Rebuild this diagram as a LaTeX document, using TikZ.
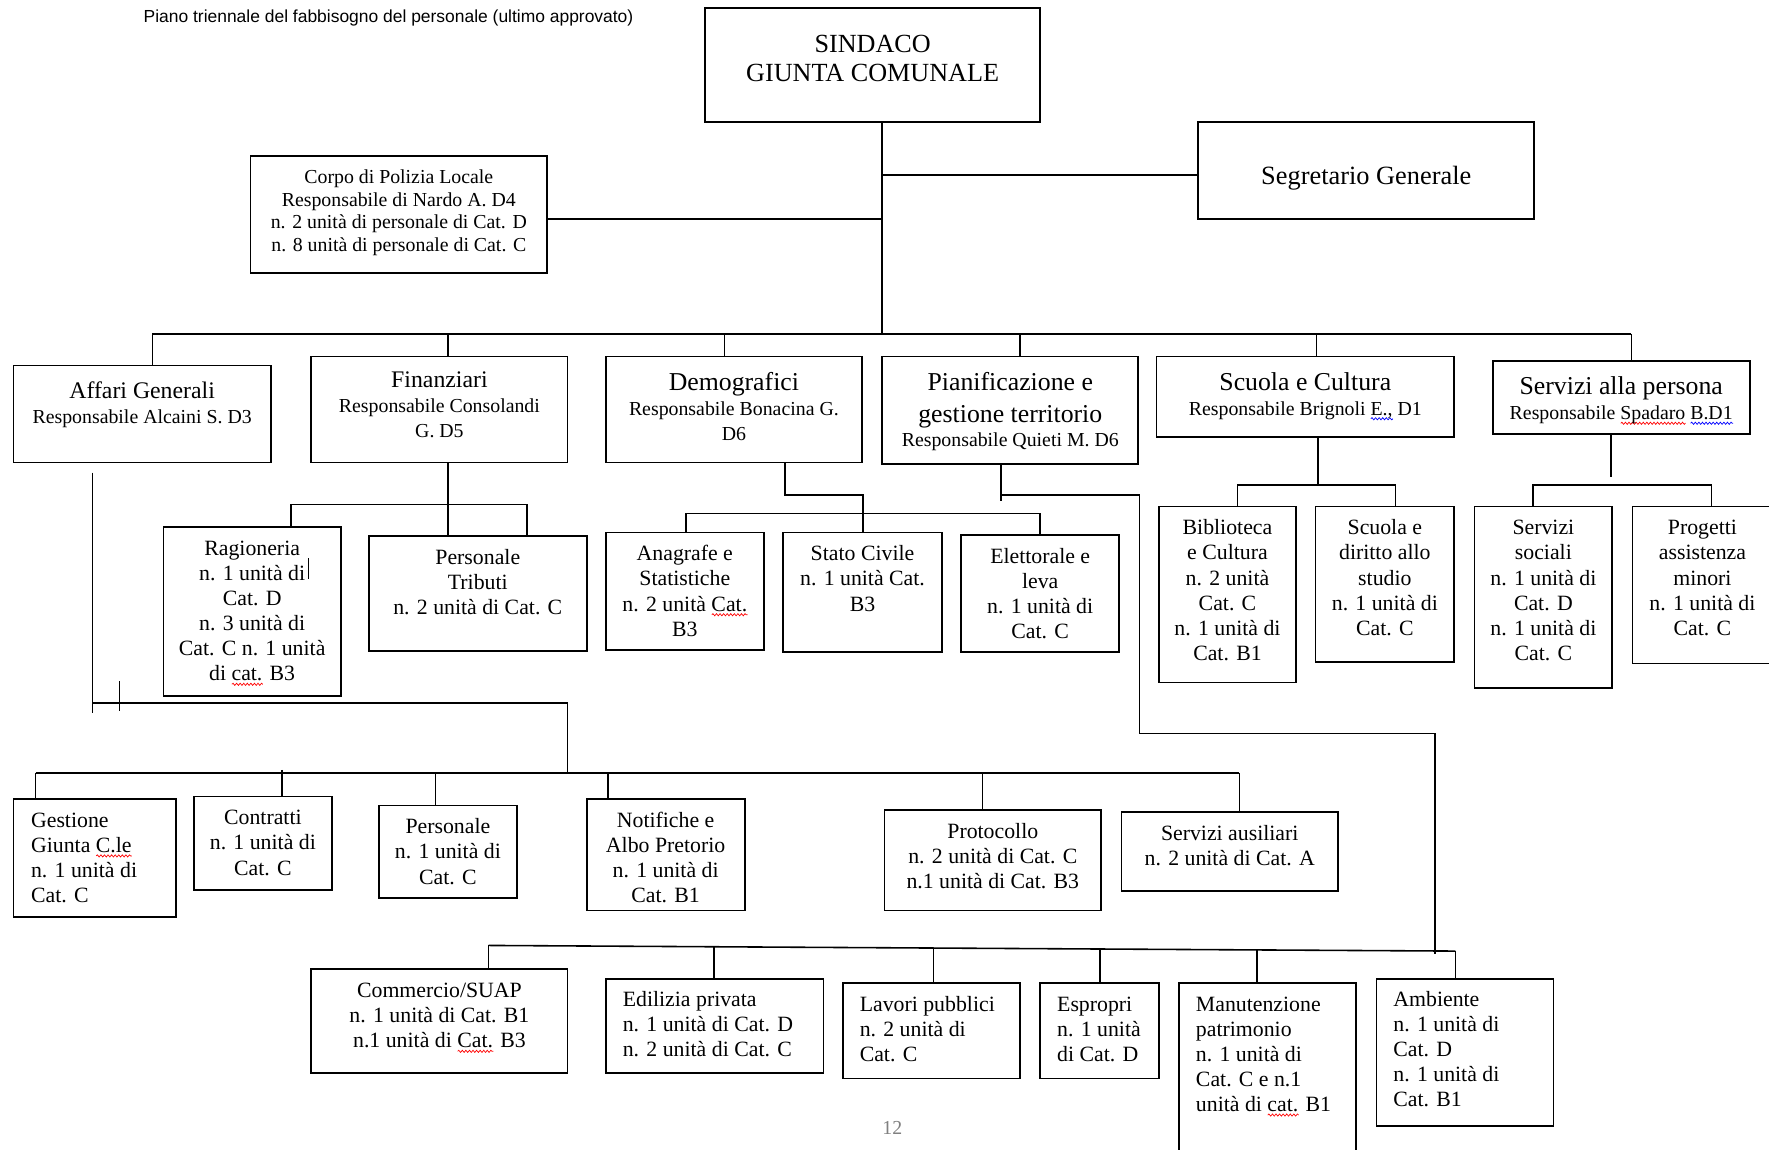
\documentclass[tikz,border=0pt]{standalone}
\usepackage{fontspec}
\setmainfont{Liberation Serif}
\newfontfamily\arialfont{Liberation Sans}
\usetikzlibrary{calc,fit,decorations.pathmorphing}

\newdimen\wavewd
\newcommand{\wavy}[2]{\setbox0\hbox{#2}\wavewd=\wd0\rlap{\raisebox{-2.6pt}{\tikz[x=1pt,y=1pt]\draw[#1, line width=0.35pt, decorate,
  decoration={snake, amplitude=0.55pt, segment length=1.8pt}] (0,0) -- (\wavewd,0);}}#2}
\newcommand{\rwave}[1]{\wavy{red}{#1}}
\newcommand{\bwave}[1]{\wavy{blue}{#1}}
\newcommand{\hda}{\fontsize{13}{15}\selectfont}
\newcommand{\hdb}{\fontsize{12}{14}\selectfont}

\begin{document}
\begin{tikzpicture}[x=0.02cm, y=-0.02cm,
    box/.style={draw, line width=0.9pt, inner sep=0pt},
    link/.style={line width=0.8pt},
    txt/.style={align=center, inner sep=0pt, anchor=north,
      font=\fontsize{11}{12.65}\selectfont},
    txtl/.style={txt, align=left, anchor=north west},
    head/.style={txt, font=\fontsize{10}{12.5}\selectfont}]

    \path[use as bounding box, fill=white] (0,0) rectangle (1568,1019);

    \node[font=\arialfont\fontsize{8.8}{10}\selectfont, anchor=west, inner sep=0pt]
      (titolo) at (127,16) {Piano triennale del fabbisogno del personale (ultimo approvato)};

    % vertice
    \node[box, fit={(625,7) (922,108)}] (sind) {};
    \node[txt, font=\fontsize{13.2}{14.8}\selectfont] (sind-t) at ($(sind.north)+(0,21.5)$)
      {\strut SINDACO\\ GIUNTA COMUNALE};
    \node[box, fit={(1062,108) (1360,194)}] (seg) {};
    \node[font=\fontsize{13.3}{15}\selectfont, inner sep=0pt, anchor=base] (seg-t)
      at ($(seg.center)+(0,12.7)$) {Segretario Generale};
    \node[box, fit={(222,138) (485,242)}] (pol) {};
    \node[txt, font=\fontsize{10}{11.5}\selectfont] (pol-t) at ($(pol.north)+(0,10.7)$)
      {\strut Corpo di Polizia Locale\\ Responsabile di Nardo A. D4\\
       n. 2 unità di personale di Cat. D\\ n. 8 unità di personale di Cat. C};

    % settori
    \node[box, fit={(12,324) (240,410)}] (aff) {};
    \node[head] (aff-t) at ($(aff.north)+(0,14.5)$)
      {\strut{\hdb Affari Generali}\\ Responsabile Alcaini S. D3};
    \node[box, fit={(276,316) (503,410)}] (fin) {};
    \node[head] (fin-t) at ($(fin.north)+(0,12.5)$)
      {\strut{\hdb Finanziari}\\ Responsabile Consolandi\\ G. D5};
    \node[box, fit={(537,316) (764,410)}] (dem) {};
    \node[head] (dem-t) at ($(dem.north)+(0,14.5)$)
      {\strut{\hda Demografici}\\ Responsabile Bonacina G.\\ D6};
    \node[box, fit={(782,316) (1009,411)}] (pia) {};
    \node[head] (pia-t) at ($(pia.north)+(0,14.5)$)
      {\strut{\hda Pianificazione e}\\[3.4pt] {\hda gestione territorio}\\ Responsabile Quieti M. D6};
    \node[box, fit={(1025,316) (1289,387)}] (scu) {};
    \node[head] (scu-t) at ($(scu.north)+(0,14.5)$)
      {\strut{\hda Scuola e Cultura}\\ Responsabile Brignoli \bwave{E.,} D1};
    \node[box, fit={(1323,320) (1551,385)}] (ser) {};
    \node[head] (ser-t) at ($(ser.north)+(0,14.5)$)
      {\strut{\hda Servizi alla persona}\\ Responsabile \rwave{Spadaro} \bwave{B.D1}};

    % uffici
    \node[box, fit={(145,467) (302,617)}] (rag) {};
    \node[txt] (rag-t) at ($(rag.north)+(0,10)$)
      {\strut Ragioneria\\ n. 1 unità di\\ Cat. D\\ n. 3 unità di\\ Cat. C n. 1 unità\\ di \rwave{cat.} B3};
    \node[box, fit={(327,475) (520,577)}] (ptr) {};
    \node[txt] (ptr-t) at ($(ptr.north)+(0,10)$)
      {\strut Personale\\ Tributi\\ n. 2 unità di Cat. C};
    \node[box, fit={(537,472) (677,576)}] (ana) {};
    \node[txt] (ana-t) at ($(ana.north)+(0,10)$)
      {\strut Anagrafe e\\ Statistiche\\ n. 2 unità \rwave{Cat.}\\ B3};
    \node[box, fit={(694,472) (835,578)}] (sta) {};
    \node[txt] (sta-t) at ($(sta.north)+(0,10)$)
      {\strut Stato Civile\\ n. 1 unità Cat.\\ B3};
    \node[box, fit={(852,474) (992,578)}] (ele) {};
    \node[txt] (ele-t) at ($(ele.north)+(0,10)$)
      {\strut Elettorale e\\ leva\\ n. 1 unità di\\ Cat. C};
    \node[box, fit={(1027,449) (1149,605)}] (bib) {};
    \node[txt] (bib-t) at ($(bib.north)+(0,10)$)
      {\strut Biblioteca\\ e Cultura\\ n. 2 unità\\ Cat. C\\ n. 1 unità di\\ Cat. B1};
    \node[box, fit={(1166,449) (1289,587)}] (sdi) {};
    \node[txt] (sdi-t) at ($(sdi.north)+(0,10)$)
      {\strut Scuola e\\ diritto allo\\ studio\\ n. 1 unità di\\ Cat. C};
    \node[box, fit={(1307,449) (1429,610)}] (sso) {};
    \node[txt] (sso-t) at ($(sso.north)+(0,10)$)
      {\strut Servizi\\ sociali\\ n. 1 unità di\\ Cat. D\\ n. 1 unità di\\ Cat. C};
    \node[box, fit={(1447,449) (1571,588)}] (pro) {};
    \node[txt] (pro-t) at ($(pro.north)+(0,10)$)
      {\strut Progetti\\ assistenza\\ minori\\ n. 1 unità di\\ Cat. C};

    \node[box, fit={(12,708) (156,813)}] (ges) {};
    \node[txtl] (ges-t) at ($(ges.north west)+(16,10)$)
      {\strut Gestione\\ Giunta \rwave{C.le}\\ n. 1 unità di\\ Cat. C};
    \node[box, fit={(172,706) (294,789)}] (ctr) {};
    \node[txt] (ctr-t) at ($(ctr.north)+(0,10)$)
      {\strut Contratti\\ n. 1 unità di\\ Cat. C};
    \node[box, fit={(336,714) (458,796)}] (per) {};
    \node[txt] (per-t) at ($(per.north)+(0,10)$)
      {\strut Personale\\ n. 1 unità di\\ Cat. C};
    \node[box, fit={(520,708) (660,807)}] (notif) {};
    \node[txt] (notif-t) at ($(notif.north)+(0,10)$)
      {\strut Notifiche e\\ Albo Pretorio\\ n. 1 unità di\\ Cat. B1};
    \node[box, fit={(784,718) (976,807)}] (prt) {};
    \node[txt] (prt-t) at ($(prt.north)+(0,10)$)
      {\strut Protocollo\\ n. 2 unità di Cat. C\\ n.1 unità di Cat. B3};
    \node[box, fit={(994,720) (1186,790)}] (aus) {};
    \node[txt] (aus-t) at ($(aus.north)+(0,10)$)
      {\strut Servizi ausiliari\\ n. 2 unità di Cat. A};

    \node[box, fit={(276,859) (503,951)}] (com) {};
    \node[txt] (com-t) at ($(com.north)+(0,10)$)
      {\strut Commercio/SUAP\\ n. 1 unità di Cat. B1\\ n.1 unità di \rwave{Cat.} B3};
    \node[box, fit={(537,868) (730,951)}] (edi) {};
    \node[txtl] (edi-t) at ($(edi.north west)+(15.5,9)$)
      {\strut Edilizia privata\\ n. 1 unità di Cat. D\\ n. 2 unità di Cat. C};
    \node[box, fit={(747,871) (904,956)}] (lav) {};
    \node[txtl] (lav-t) at ($(lav.north west)+(15.5,10)$)
      {\strut Lavori pubblici\\ n. 2 unità di\\ Cat. C};
    \node[box, fit={(922,871) (1027,956)}] (esp) {};
    \node[txtl] (esp-t) at ($(esp.north west)+(15.5,10)$)
      {\strut Espropri\\ n. 1 unità\\ di Cat. D};
    \node[box, fit={(1045,871) (1202,1040)}] (man) {};
    \node[txtl] (man-t) at ($(man.north west)+(15.5,10)$)
      {\strut Manutenzione\\ patrimonio\\ n. 1 unità di\\ Cat. C e n.1\\ unità di \rwave{cat.} B1};
    \node[box, fit={(1220,868) (1377,998)}] (amb) {};
    \node[txtl] (amb-t) at ($(amb.north west)+(15.5,9)$)
      {\strut Ambiente\\ n. 1 unità di\\ Cat. D\\ n. 1 unità di\\ Cat. B1};

    \node[font=\fontsize{10}{12}\selectfont, text=gray, inner sep=0pt] (pagina) at (791,1000) {12};

    % collegamenti vertice
    \coordinate (trunk) at (782,296);
    \coordinate (t-seg) at (782,155);
    \coordinate (t-pol) at (782,194);
    \draw[link] (sind.south -| trunk) -- (trunk);
    \draw[link] (t-seg) -- (t-seg -| seg.west);
    \draw[link] (t-pol) -- (t-pol -| pol.east);

    % barra settori
    \coordinate (b-aff) at (135,296);
    \coordinate (b-fin) at (397,296);
    \coordinate (b-dem) at (642,296);
    \coordinate (b-pia) at (904,296);
    \coordinate (b-scu) at (1167,296);
    \coordinate (b-ser) at (1446,296);
    \draw[link] (b-aff) -- (b-ser);
    \foreach \n in {aff,fin,dem,pia,scu,ser}
      \draw[link] (b-\n) -- (b-\n |- \n.north);

    % finanziari
    \coordinate (f-rag) at (258,447);
    \coordinate (f-ptr) at (467,447);
    \draw[link] (fin.south -| b-fin) -- (b-fin |- ptr.north);
    \draw[link] (f-rag |- rag.north) -- (f-rag) -- (f-ptr) -- (f-ptr |- ptr.north);
    \draw[line width=0.5pt] (273,495) -- (273,513);

    % demografici
    \coordinate (d-a) at (696,439);
    \coordinate (d-b) at (765,439);
    \coordinate (d-ana) at (608,455);
    \coordinate (d-ele) at (922,455);
    \draw[link] (dem.south -| d-a) -- (d-a) -- (d-b) -- (d-b |- sta.north);
    \draw[link] (d-ana |- ana.north) -- (d-ana) -- (d-ele) -- (d-ele |- ele.north);

    % scuola e servizi
    \coordinate (s-a) at (1168,430);
    \coordinate (s-bib) at (1097,430);
    \coordinate (s-sdi) at (1237,430);
    \draw[link] (scu.south -| s-a) -- (s-a);
    \draw[link] (s-bib |- bib.north) -- (s-bib) -- (s-sdi) -- (s-sdi |- sdi.north);
    \coordinate (v-a) at (1428,423);
    \coordinate (v-sso) at (1359,430);
    \coordinate (v-pro) at (1517,430);
    \draw[link] (ser.south -| v-a) -- (v-a);
    \draw[link] (v-sso |- sso.north) -- (v-sso) -- (v-pro) -- (v-pro |- pro.north);

    % affari generali
    \coordinate (a-a) at (82,419);
    \coordinate (a-b) at (82,632);
    \coordinate (a-c) at (503,623);
    \coordinate (a-d) at (503,685);
    \coordinate (g-ges) at (31.5,685);
    \coordinate (g-ctr) at (250,685);
    \coordinate (g-per) at (386,685);
    \coordinate (g-notif) at (539,685);
    \coordinate (g-prt) at (871,685);
    \coordinate (g-aus) at (1098.5,685);
    \draw[link] (a-a) -- (a-b);
    \draw[link] (106,604) -- (106,630);
    \draw[link] (a-a |- a-c) -- (a-c) -- (a-d);
    \draw[link] (g-ges) -- (g-aus);
    \foreach \n in {ges,per,notif,prt,aus}
      \draw[link] (g-\n) -- (g-\n |- \n.north);
    \draw[link] ([yshift=1.5pt]g-ctr) -- (g-ctr |- ctr.north);

    % pianificazione
    \coordinate (p-a) at (887,439);
    \coordinate (p-b) at (1010,439);
    \coordinate (p-c) at (1010,650);
    \coordinate (p-d) at (1272,650);
    \coordinate (p-e) at (1272,846);
    \draw[link] (pia.south -| p-a) -- ([yshift=-3pt]p-a);
    \draw[link] (p-a) -- (p-b) -- (p-c) -- (p-d) -- (p-e);
    \coordinate (u-com) at (433,838);
    \coordinate (u-edi) at (633,839.2);
    \coordinate (u-lav) at (827.5,840.3);
    \coordinate (u-esp) at (975,841.2);
    \coordinate (u-man) at (1114,842);
    \coordinate (u-amb) at (1290,843);
    \draw[link] (u-com) -- (u-amb);
    \foreach \n in {com,edi,lav,esp,man,amb}
      \draw[link] (u-\n) -- (u-\n |- \n.north);
\end{tikzpicture}
\end{document}
